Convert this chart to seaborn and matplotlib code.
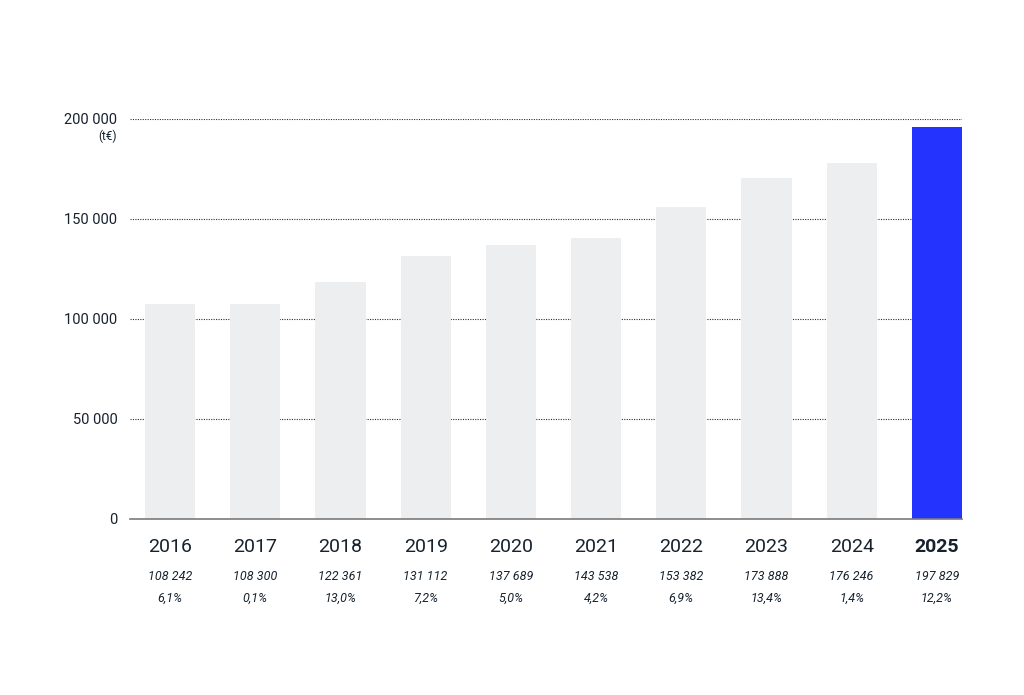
import matplotlib
matplotlib.use("Agg")
import matplotlib.pyplot as plt
import seaborn as sns
import pandas as pd

years = ["2016", "2017", "2018", "2019", "2020", "2021", "2022", "2023", "2024", "2025"]
bar_heights = [107500, 107500, 118500, 131300, 137200, 140300, 156200, 170600, 178200, 195800]
value_labels = ["108 242", "108 300", "122 361", "131 112", "137 689",
                "143 538", "153 382", "173 888", "176 246", "197 829"]
growth_labels = ["6,1%", "0,1%", "13,0%", "7,2%", "5,0%",
                 "4,2%", "6,9%", "13,4%", "1,4%", "12,2%"]
y_ticks = [0, 50000, 100000, 150000, 200000]
y_tick_labels = ["0", "50 000", "100 000", "150 000", "200 000"]
unit_label = "(t€)"

sns.set_theme(style="white")
plt.rcParams["font.family"] = ["Roboto", "DejaVu Sans"]

TEXT = "#16222e"
GREY = "#edeeef"
BLUE = "#2533ff"

df = pd.DataFrame({"year": years, "value": bar_heights,
                   "kind": ["past"] * (len(years) - 1) + ["current"]})

fig = plt.figure(figsize=(10.24, 6.95), dpi=100)
ax = fig.add_axes([130 / 1024, 1 - 519 / 695, (962 - 130) / 1024, (519 - 119) / 695])

sns.barplot(data=df, x="year", y="value", hue="kind",
            palette={"past": GREY, "current": BLUE}, saturation=1,
            width=0.59, dodge=False, legend=False, ax=ax, zorder=3,
            linewidth=0)

ax.set_ylim(0, 200000)
ax.set_xlim(-0.47, 9.295)
ax.set_yticks(y_ticks)
ax.set_yticklabels(y_tick_labels)
for y in y_ticks[1:]:
    ax.axhline(y, color="#2a2f36", linestyle=(0, (1, 1.2)), linewidth=0.8, zorder=1)

for s in ["top", "right", "left"]:
    ax.spines[s].set_visible(False)
ax.spines["bottom"].set_color("#7a7a7a")
ax.spines["bottom"].set_linewidth(1.2)
ax.spines["bottom"].set_zorder(4)

ax.set_xlabel("")
ax.set_ylabel("")
ax.tick_params(axis="y", length=0, pad=9, labelsize=10.5, labelcolor=TEXT)
ax.tick_params(axis="x", length=0, pad=13.5, labelsize=14, labelcolor=TEXT)
ax.set_xticks(range(len(years)))
ax.set_xticklabels(years)
ax.get_xticklabels()[-1].set_fontweight("bold")

ax.annotate(unit_label, xy=(0, 200000), xycoords=("axes fraction", "data"),
            xytext=(-9.4, -12.5), textcoords="offset points",
            ha="right", va="center", fontsize=8.5, color=TEXT)

for i in range(len(years)):
    ax.annotate(value_labels[i], xy=(i, 0), xycoords=("data", "axes fraction"),
                xytext=(0, -41.5), textcoords="offset points",
                ha="center", va="center", fontsize=9, style="italic", color=TEXT)
    ax.annotate(growth_labels[i], xy=(i, 0), xycoords=("data", "axes fraction"),
                xytext=(0, -57), textcoords="offset points",
                ha="center", va="center", fontsize=9, style="italic", color=TEXT)

fig.savefig("out.png", dpi=100, facecolor="white")
